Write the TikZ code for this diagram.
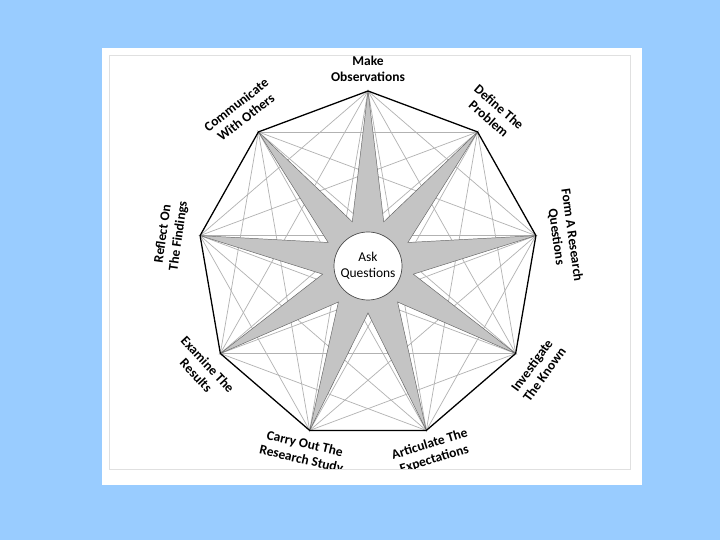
\documentclass[tikz,border=0pt]{standalone}
\usepackage{fontspec}
\setmainfont{Carlito}
\usepackage{xcolor}
\usepackage{tikz}
\usetikzlibrary{positioning}

\definecolor{bgblue}{RGB}{153,204,255}
\definecolor{chordgray}{RGB}{178,178,178}
\definecolor{starfill}{RGB}{196,196,196}

\tikzset{
  chord/.style={chordgray, line width=0.6pt},
  side/.style={black, line width=1.1pt, line join=round},
  spike/.style={fill=starfill, draw=black!60, line width=0.4pt, line join=miter},
  lbl/.style={font=\fontsize{11.5}{13.4}\selectfont\bfseries, align=center, inner sep=0pt},
  hub/.style={circle, draw=black!70, fill=white, line width=0.6pt, minimum size=68*0.03cm,
    inner sep=0pt, align=center, font=\fontsize{11.5}{13.4}\selectfont}
}

\begin{document}
\begin{tikzpicture}[x=0.03cm, y=0.03cm]

  % page and panel
  \fill[bgblue] (0,0) rectangle (720,540);
  \fill[white] (102,55) rectangle (641.5,492.3);
  \draw[black!12, line width=0.5pt] (109.3,71) rectangle (630.7,485);

  \begin{scope}
    \clip (109.3,71) rectangle (630.7,485);

    % corners of the nonagon and the inner points of the star
    \foreach \k in {0,...,8} {
      \coordinate (v\k) at ({368+170.5*cos(90-40*\k)},{274+175*sin(90-40*\k)});
      \coordinate (s\k) at ({368+46*cos(70-40*\k)},{274+47*sin(70-40*\k)});
    }

    % all chords
    \foreach \k in {0,...,8} {
      \foreach \d in {2,3,4} {
        \pgfmathtruncatemacro\n{mod(\k+\d,9)}
        \draw[chord] (v\k) -- (v\n);
      }
    }

    % star
    \path[spike] (v0) -- (s0) -- (v1) -- (s1) -- (v2) -- (s2) -- (v3) -- (s3) -- (v4)
      -- (s4) -- (v5) -- (s5) -- (v6) -- (s6) -- (v7) -- (s7) -- (v8) -- (s8) -- cycle;

    % outline
    \draw[side] (v0) -- (v1) -- (v2) -- (v3) -- (v4) -- (v5) -- (v6) -- (v7) -- (v8) -- cycle;

    \node[hub] (ask) at (368,274) {Ask\\Questions};

    % step labels
    \node[lbl] (l0) at (368,471) {Make\\Observations};
    \node[lbl, rotate=-41] (l1) at (494,427) {Define The\\Problem};
    \node[lbl, rotate=-82] (l2) at (564,304) {Form A Research\\Questions};
    \node[lbl, rotate=54] (l3) at (538,170) {Investigate\\The Known};
    \node[lbl, rotate=17] (l4) at (432,88) {Articulate The\\Expectations};
    \node[lbl, rotate=-13] (l5) at (303,88) {Carry Out The\\Research Study};
    \node[lbl, rotate=-47] (l6) at (202,170) {Examine The\\Results};
    \node[lbl, rotate=82] (l7) at (171,305) {Reflect On\\The Findings};
    \node[lbl, rotate=38] (l8) at (241,429) {Communicate\\With Others};
  \end{scope}

\end{tikzpicture}
\end{document}
